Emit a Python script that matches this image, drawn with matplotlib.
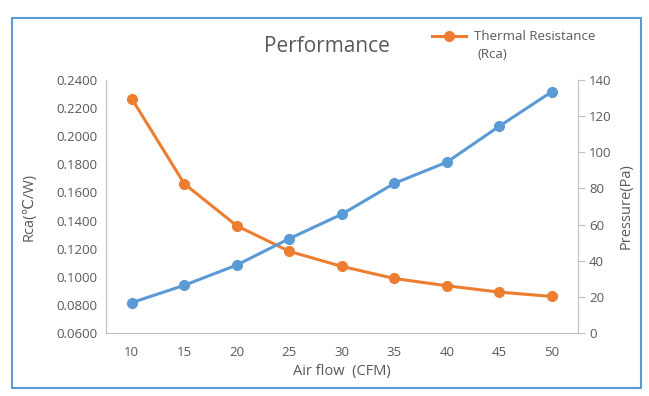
import matplotlib.pyplot as plt
from matplotlib.patches import Rectangle
from matplotlib.lines import Line2D

# data
air_flow = ['10', '15', '20', '25', '30', '35', '40', '45', '50']
rca = [0.2267, 0.1662, 0.1363, 0.1181, 0.1074, 0.0988, 0.0936, 0.0891, 0.0860]
pressure = [16.8, 26.4, 37.6, 52.2, 65.7, 82.8, 94.5, 114.4, 133.5]

orange = '#ED7D31'
blue = '#5B9BD5'
txt = '#595959'
spine_c = '#BFBFBF'

plt.rcParams['font.family'] = ['Open Sans', 'DejaVu Sans']

fig = plt.figure(figsize=(6.49, 3.96), dpi=100)
ax1 = fig.add_axes([105.5 / 649, 1 - 333 / 396, (578 - 105.5) / 649, (333 - 80) / 396])
ax2 = ax1.twinx()

x = list(range(len(air_flow)))
ax1.plot(x, rca, color=orange, lw=2.2, marker='o', ms=7, zorder=3)
ax2.plot(x, pressure, color=blue, lw=2.2, marker='o', ms=7, zorder=3)

ax1.set_xlim(-0.5, len(air_flow) - 0.5)
ax1.set_ylim(0.06, 0.24)
ax1.set_yticks([0.06 + 0.02 * i for i in range(10)])
ax1.yaxis.set_major_formatter(plt.FuncFormatter(lambda v, p: f'{v:.4f}'))
ax2.set_ylim(0, 140)
ax2.set_yticks(range(0, 141, 20))
ax1.set_xticks(x)
ax1.set_xticklabels(air_flow)

for ax in (ax1, ax2):
    ax.spines['top'].set_visible(False)
    for s in ('left', 'right', 'bottom'):
        ax.spines[s].set_color(spine_c)
    ax.tick_params(colors=txt, labelsize=9.5)
ax1.spines['right'].set_visible(False)
ax2.spines['left'].set_visible(False)
ax2.spines['bottom'].set_visible(False)
ax1.tick_params(axis='y', length=0, pad=6)
ax1.tick_params(axis='x', length=0, pad=9)
ax2.tick_params(axis='y', length=5, color=spine_c, pad=3)

ax1.set_xlabel('Air flow  (CFM)', color=txt, fontsize=10.5, labelpad=4)
ax1.set_ylabel('Rca(℃/W)', color=txt, fontsize=10.5, labelpad=14)
ax2.set_ylabel('Pressure(Pa)', color=txt, fontsize=10.5, labelpad=5)

fig.text(327 / 649, 1 - 47 / 396, 'Performance', ha='center', va='center',
         color=txt, fontsize=15)

# legend (only the orange series in the original)
fig.add_artist(Line2D([432 / 649, 466 / 649], [1 - 36 / 396] * 2, color=orange,
                      lw=2.2, transform=fig.transFigure))
fig.add_artist(Line2D([449 / 649], [1 - 36 / 396], color=orange, marker='o', ms=7,
                      transform=fig.transFigure))
fig.text(474 / 649, 1 - 36 / 396, 'Thermal Resistance', ha='left', va='center',
         color=txt, fontsize=9.5)
fig.text(478 / 649, 1 - 55 / 396, '(Rca)', ha='left', va='center',
         color=txt, fontsize=9.5)

# outer frame
fig.add_artist(Rectangle((12 / 649, 1 - 388 / 396), (641 - 12) / 649, (388 - 18) / 396,
                         transform=fig.transFigure, fill=False, edgecolor=blue, lw=1.5))

fig.savefig('out.png', dpi=100)
